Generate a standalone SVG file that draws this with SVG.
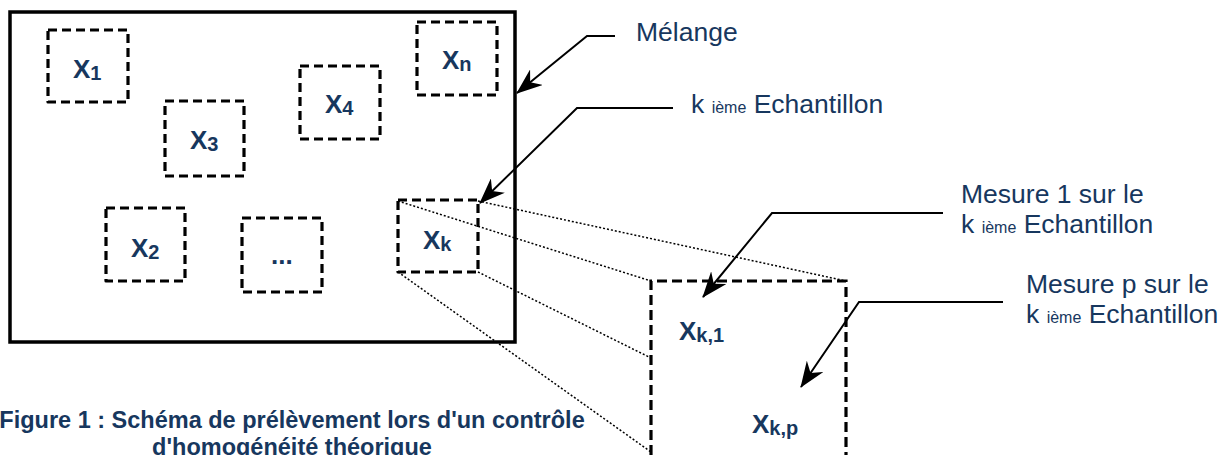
<svg xmlns="http://www.w3.org/2000/svg" width="1230" height="455" viewBox="0 0 1230 455">
<style>
.frame{fill:none;stroke:#000;stroke-width:3.5}
.box{fill:none;stroke:#000;stroke-width:3.2;stroke-dasharray:9 5;stroke-linejoin:round}
.big{fill:none;stroke:#000;stroke-width:3.2;stroke-dasharray:10 5}
.dot{fill:none;stroke:#000;stroke-width:1.5;stroke-dasharray:2 2}
.arr{fill:none;stroke:#000;stroke-width:2}
.lbl{font-family:"Liberation Sans",Arial,sans-serif;font-weight:bold;font-size:26px;fill:#17375e}
.sub{font-size:20px}
.txt{font-family:"Liberation Sans",Arial,sans-serif;font-size:26.5px;fill:#17375e}
.sm{font-size:16px}
.cap{font-family:"Liberation Sans",Arial,sans-serif;font-weight:bold;font-size:23.5px;fill:#17375e;text-anchor:middle}
</style>
<defs>
<marker id="ah" markerUnits="userSpaceOnUse" markerWidth="26" markerHeight="20" viewBox="0 0 26 20" refX="25" refY="10" orient="auto">
<path d="M26,10 L0,0 L8,10 L0,20 Z" fill="#000"/>
</marker>
</defs>
<rect id="melange" class="frame" x="10" y="12" width="505" height="330"/>
<g id="x1"><rect class="box" x="48" y="30" width="80" height="72"/><text class="lbl" x="73" y="78">X<tspan class="sub" dy="2">1</tspan></text></g>
<g id="x3"><rect class="box" x="165" y="101" width="79" height="75"/><text class="lbl" x="190" y="149">X<tspan class="sub" dy="2">3</tspan></text></g>
<g id="x4"><rect class="box" x="300" y="66" width="80" height="73"/><text class="lbl" x="325" y="113">X<tspan class="sub" dy="2">4</tspan></text></g>
<g id="xn"><rect class="box" x="417" y="22" width="80" height="73"/><text class="lbl" x="442" y="69">X<tspan class="sub" dy="2">n</tspan></text></g>
<g id="x2"><rect class="box" x="106" y="208" width="79" height="73"/><text class="lbl" x="131" y="257">X<tspan class="sub" dy="2">2</tspan></text></g>
<g id="xdots"><rect class="box" x="242" y="218" width="80" height="74"/><text class="lbl" x="271" y="264">...</text></g>
<g id="xk"><rect class="box" x="398" y="200" width="80" height="72"/><text class="lbl" x="423" y="249">X<tspan class="sub" dy="2">k</tspan></text></g>
<g id="sample"><path class="big" d="M651,470 V281 H846 V470"/>
<text class="lbl" x="679" y="340">X<tspan class="sub" dy="2">k,1</tspan></text>
<text class="lbl" x="752" y="433">X<tspan class="sub" dy="2">k,p</tspan></text></g>
<g id="connectors">
<path class="dot" d="M478,201 L846,281"/>
<path class="dot" d="M398,201 L651,281"/>
<path class="dot" d="M478,272 L651,358"/>
<path class="dot" d="M398,272 L651,452"/>
<path class="arr" d="M615,36 H587 L517,93" marker-end="url(#ah)"/>
<path class="arr" d="M673,108 H577 L480,203" marker-end="url(#ah)"/>
<path class="arr" d="M943,213 H772 L703,297" marker-end="url(#ah)"/>
<path class="arr" d="M1003,302 H859 L801,387" marker-end="url(#ah)"/>
</g>
<g id="labels">
<text class="txt" x="636" y="41">Mélange</text>
<text class="txt" x="691" y="113">k <tspan class="sm">ième</tspan> Echantillon</text>
<text class="txt" x="961" y="203">Mesure 1 sur le</text>
<text class="txt" x="961" y="233">k <tspan class="sm">ième</tspan> Echantillon</text>
<text class="txt" x="1026" y="293">Mesure p sur le</text>
<text class="txt" x="1026" y="323">k <tspan class="sm">ième</tspan> Echantillon</text>
</g>
<g id="caption">
<text class="cap" x="292" y="428">Figure 1 : Schéma de prélèvement lors d'un contrôle</text>
<text class="cap" x="292" y="455">d'homogénéité théorique</text>
</g>
</svg>
